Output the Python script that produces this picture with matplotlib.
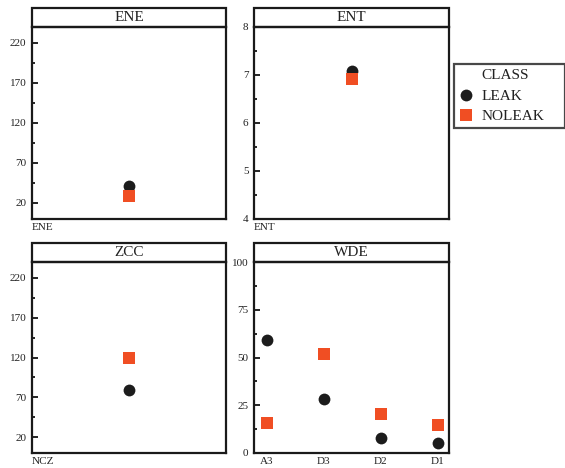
import matplotlib.pyplot as plt
import numpy as np
from matplotlib.lines import Line2D
from matplotlib.patches import Rectangle

plt.rcParams['font.family'] = ['Liberation Serif', 'DejaVu Serif']

# Data
classes = ['LEAK', 'NOLEAK']
colors = {'LEAK': '#1c1c1c', 'NOLEAK': '#f04e23'}
markers = {'LEAK': 'o', 'NOLEAK': 's'}

ene_vals = {'LEAK': [41.5], 'NOLEAK': [29]}
ent_vals = {'LEAK': [7.08], 'NOLEAK': [6.92]}
zcc_vals = {'LEAK': [79], 'NOLEAK': [120]}
wde_cats = ['A3', 'D3', 'D2', 'D1']
wde_vals = {'LEAK': [59, 28.5, 8, 5], 'NOLEAK': [15.5, 52, 20.5, 14.5]}

panels = [
    ('ENE', 'ENE', ['ENE'], ene_vals, (0, 240), [20, 70, 120, 170, 220], [45, 95, 145, 195]),
    ('ENT', 'ENT', ['ENT'], ent_vals, (4, 8), [4, 5, 6, 7, 8], [4.5, 5.5, 6.5, 7.5]),
    ('ZCC', 'NCZ', ['NCZ'], zcc_vals, (0, 240), [20, 70, 120, 170, 220], [45, 95, 145, 195]),
    ('WDE', None, wde_cats, wde_vals, (0, 100), [0, 25, 50, 75, 100], [12.5, 37.5, 62.5, 87.5]),
]

W, H = 565, 468
fig = plt.figure(figsize=(W / 100, H / 100), dpi=100)

# axes boxes in pixels: left, top, right, bottom (data area)
boxes = [(32, 27, 226, 219), (254, 27, 449, 219),
         (32, 262, 226, 453), (254, 262, 449, 453)]
title_h = 19

for (title, xlab, cats, vals, ylim, yt, ymt), (l, t, r, b) in zip(panels, boxes):
    ax = fig.add_axes([l / W, 1 - b / H, (r - l) / W, (b - t) / H])
    x = np.arange(len(cats))
    for c in classes:
        ax.plot(x, vals[c], linestyle='none', marker=markers[c], color=colors[c],
                markersize=8.5 if c == 'LEAK' else 8, markeredgewidth=0)
    if len(cats) == 1:
        ax.set_xlim(-1, 1)
        ax.set_xticks([])
    else:
        ax.set_xlim(-0.22, len(cats) - 1 + 0.2)
        ax.set_xticks(x)
        ax.set_xticklabels(cats, fontsize=8, color='#222222')
        ax.tick_params(axis='x', length=0, pad=3)
    ax.set_ylim(*ylim)
    ax.set_yticks(yt)
    ax.set_yticks(ymt, minor=True)
    ax.tick_params(axis='y', direction='in', length=4, width=1.2, labelsize=8,
                   labelcolor='#222222', pad=4)
    ax.tick_params(axis='y', which='minor', direction='in', length=2.5, width=1.2)
    for s in ax.spines.values():
        s.set_linewidth(1.6)
        s.set_color('#1a1a1a')
    if xlab:
        ax.set_xlabel(xlab, loc='left', fontsize=8, labelpad=3, color='#222222')
    # title strip
    th = title_h / (b - t)
    ax.add_patch(Rectangle((0, 1), 1, th, transform=ax.transAxes, clip_on=False,
                           facecolor='white', edgecolor='#1a1a1a', linewidth=1.6))
    ax.text(0.5, 1 + th / 2, title, transform=ax.transAxes, ha='center', va='center',
            fontsize=11, color='#222222')

handles = [Line2D([], [], linestyle='none')]
labels = ['CLASS']
for c in classes:
    handles.append(Line2D([], [], linestyle='none', marker=markers[c], color=colors[c],
                          markersize=8.5 if c == 'LEAK' else 8, markeredgewidth=0))
    labels.append(c)
leg = fig.legend(handles, labels, loc='upper left', mode='expand',
                 bbox_to_anchor=(454 / W, 1 - 125 / H, 111 / W, 61 / H),
                 frameon=True, fancybox=False, fontsize=11, handlelength=1.0,
                 handletextpad=0.5, borderpad=0.3, labelspacing=0.45, borderaxespad=0)
leg.get_frame().set_edgecolor('#1a1a1a')
leg.get_frame().set_linewidth(1.6)
for txt in leg.get_texts():
    txt.set_color('#222222')

plt.savefig('out.png', dpi=100)
